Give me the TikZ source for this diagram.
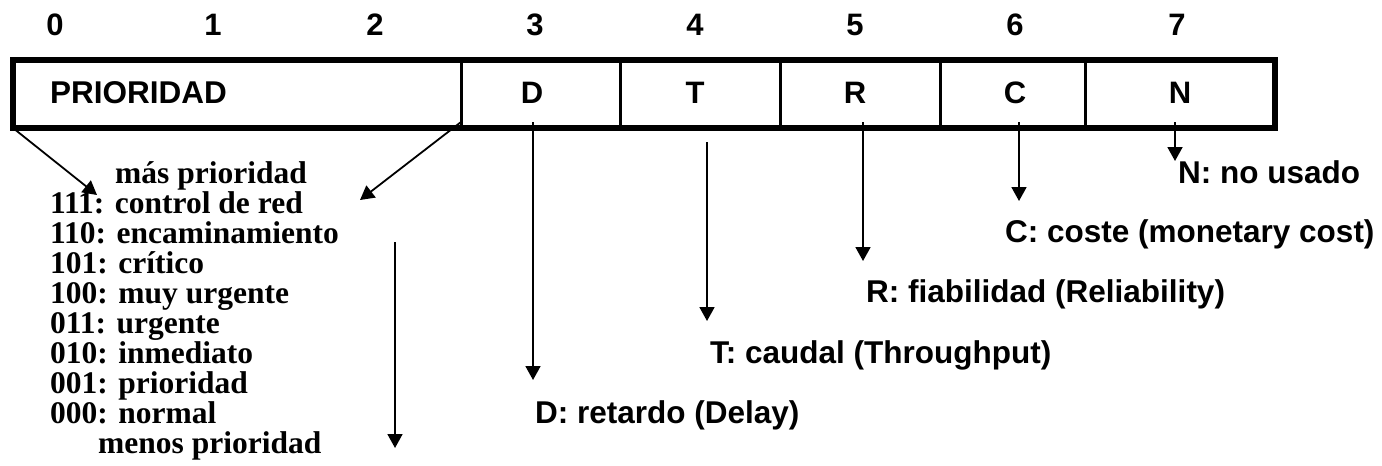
\documentclass[tikz,border=0pt]{standalone}
\usepackage{fontspec}
\setmainfont{Liberation Serif}
\setsansfont{Liberation Sans}
\usetikzlibrary{arrows.meta,calc,positioning}

\begin{document}
\begin{tikzpicture}[x=1pt,y=-1pt,
    bit/.style={font=\sffamily\bfseries\fontsize{31}{34}\selectfont,anchor=base,inner sep=0pt},
    etiq/.style={font=\sffamily\bfseries\fontsize{31.5}{34}\selectfont,anchor=base west,inner sep=0pt},
    lista/.style={font=\rmfamily\bfseries\fontsize{31.5}{30}\selectfont,anchor=base west,inner sep=0pt},
    flecha/.style={-{Triangle[width=15pt,length=14pt]},line width=1.8pt}]
    \useasboundingbox (0,0) rectangle (1382,466);
    % numeros de bit
    \foreach \i/\x in {0/55,1/213,2/375,3/535,4/695,5/855,6/1015,7/1177}
        \node[bit] (n\i) at (\x,35) {\i};
    % campo TOS
    \draw[line width=6pt] (13,60) rectangle (1275,128);
    \foreach \x in {461,620,780,940,1085}
        \draw[line width=3pt] (\x,60) -- (\x,128);
    \node[etiq] (prio) at (50,103) {PRIORIDAD};
    \node[bit] (cD) at (532,103) {D};
    \node[bit] (cT) at (695,103) {T};
    \node[bit] (cR) at (855,103) {R};
    \node[bit] (cC) at (1015,103) {C};
    \node[bit] (cN) at (1180,103) {N};
    % extremos de las flechas
    \coordinate (I0) at (13,128);
    \coordinate (I1) at (97,195);
    \coordinate (P0) at (461,122);
    \coordinate (P1) at (360,200);
    \coordinate (V0) at (395,242);
    \coordinate (V1) at (395,448);
    \coordinate (D0) at (533,122);
    \coordinate (D1) at (533,380);
    \coordinate (T0) at (707,142);
    \coordinate (T1) at (707,321);
    \coordinate (R0) at (863,122);
    \coordinate (R1) at (863,261);
    \coordinate (C0) at (1019,122);
    \coordinate (C1) at (1019,201);
    \coordinate (N0) at (1175,122);
    \coordinate (N1) at (1175,161);
    \draw[flecha] (I0) -- (I1);
    \draw[flecha] (P0) -- (P1);
    \draw[flecha] (V0) -- (V1);
    \draw[flecha] (D0) -- (D1);
    \draw[flecha] (T0) -- (T1);
    \draw[flecha] (R0) -- (R1);
    \draw[flecha] (C0) -- (C1);
    \draw[flecha] (N0) -- (N1);
    % niveles de prioridad
    \node[lista] (mas) at (115,183) {más prioridad};
    \foreach \k/\t in {1/111: control de red,2/110: encaminamiento,3/101: crítico,
        4/100: muy urgente,5/011: urgente,6/010: inmediato,7/001: prioridad,8/000: normal}
        \node[lista] (l\k) at (50,183+30*\k) {\t};
    \node[lista] (menos) at (98,453) {menos prioridad};
    % significado de los bits
    \node[etiq] (eD) at (535,423) {D: retardo (Delay)};
    \node[etiq] (eT) at (710,363) {T: caudal (Throughput)};
    \node[etiq] (eR) at (866,302) {R: fiabilidad (Reliability)};
    \node[etiq] (eC) at (1005,242) {C: coste (monetary cost)};
    \node[etiq] (eN) at (1178,183) {N: no usado};
\end{tikzpicture}
\end{document}
